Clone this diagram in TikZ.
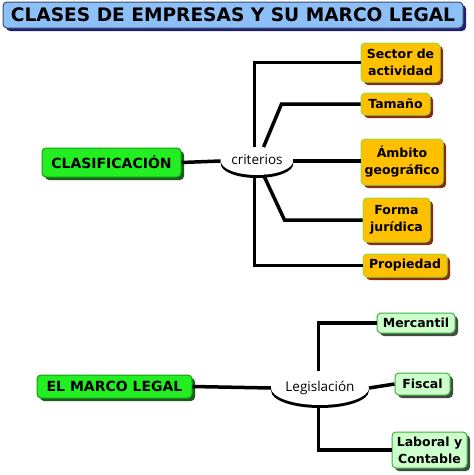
\documentclass[tikz,border=0pt]{standalone}
\usepackage{fontspec}
\setmainfont{DejaVu Sans}
\newfontfamily\plainfont{Open Sans}
\usetikzlibrary{shapes.geometric,shadows}
\definecolor{skyfill}{HTML}{8DC0F7}
\definecolor{skyedge}{HTML}{3A4A6A}
\definecolor{skyshadow}{HTML}{1F2070}
\definecolor{grnfill}{HTML}{22EE22}
\definecolor{grnedge}{HTML}{169A16}
\definecolor{grnshadow}{HTML}{1B5E1B}
\definecolor{orgfill}{HTML}{FFC000}
\definecolor{orgedge}{HTML}{9ADD3A}
\definecolor{orgshadow}{HTML}{8A2E12}
\definecolor{palefill}{HTML}{CCFFCC}
\definecolor{paleedge}{HTML}{3DB03D}
\definecolor{paleshadow}{HTML}{3F4F3F}

\begin{document}
\begin{tikzpicture}[x=1pt, y=-1pt,
  box/.style={rectangle, rounded corners=4pt, line width=1pt, align=center, inner sep=0pt,
    drop shadow={shadow xshift=3pt, shadow yshift=-3pt, opacity=1, fill=#1}},
  headbox/.style={box=skyshadow, fill=skyfill, draw=skyedge, font=\bfseries\fontsize{18.6}{20}\selectfont},
  topic/.style={box=grnshadow, fill=grnfill, draw=grnedge, font=\bfseries\fontsize{14}{15}\selectfont},
  leaf/.style={box=orgshadow, fill=orgfill, draw=orgedge, font=\bfseries\fontsize{12.5}{17}\selectfont},
  law/.style={box=paleshadow, fill=palefill, draw=paleedge, font=\bfseries\fontsize{12.5}{17}\selectfont},
  tag/.style={ellipse, fill=white, inner sep=0pt, font=\plainfont\fontsize{13.5}{15}\selectfont,
    drop shadow={shadow xshift=0pt, shadow yshift=-3pt, opacity=1, fill=black}},
  link/.style={line width=3.5pt}]
\useasboundingbox (0,0) rectangle (474,475);

% title
\node[headbox, minimum width=460pt, minimum height=26pt] (head) at (233,15) {CLASES DE EMPRESAS Y SU MARCO LEGAL};

% clasificacion
\node[topic, minimum width=139pt, minimum height=29pt] (clas) at (111.5,162.5) {CLASIFICACIÓN};
\node[leaf, minimum width=79pt, minimum height=39pt] (sector) at (400.5,62.5) {Sector de\\actividad};
\node[leaf, minimum width=69pt, minimum height=22pt] (tamano) at (395.5,104) {Tamaño};
\node[leaf, minimum width=82pt, minimum height=46pt] (ambito) at (402,162) {Ámbito\\geográfico};
\node[leaf, minimum width=67pt, minimum height=44pt] (forma) at (396.5,220) {Forma\\jurídica};
\node[leaf, minimum width=84pt, minimum height=23pt] (prop) at (405,265.5) {Propiedad};
\node[tag, minimum width=60pt, minimum height=28pt] (crit) at (257,161) {\raisebox{2.5pt}{criterios}};

\draw[link] (clas.east) -- (crit.west);
\draw[link] (sector.west) -| (crit.100);
\draw[link] (tamano.west) -- +(-79,0) -- (crit.65);
\draw[link] (crit.east) -- (crit.east -| ambito.west);
\draw[link] (forma.west) -- +(-78,0) -- (crit.-65);
\draw[link] (prop.west) -| (crit.-100);

% marco legal
\node[topic, minimum width=155pt, minimum height=23pt] (marco) at (114.5,386.5) {EL MARCO LEGAL};
\node[law, minimum width=78pt, minimum height=20pt] (merc) at (416,323) {Mercantil};
\node[law, minimum width=55pt, minimum height=22pt] (fiscal) at (422.5,384) {Fiscal};
\node[law, minimum width=75pt, minimum height=36pt] (lab) at (429.5,450) {Laboral y\\Contable};
\node[tag, minimum width=78pt, minimum height=34pt] (legis) at (320,388) {Legislación};

\draw[link] (marco.east) -- (legis.west);
\draw[link] (merc.west) -| (legis.95);
\draw[link] (legis.east) -- (fiscal.west);
\draw[link] (lab.west) -| (legis.-95);
\end{tikzpicture}
\end{document}
